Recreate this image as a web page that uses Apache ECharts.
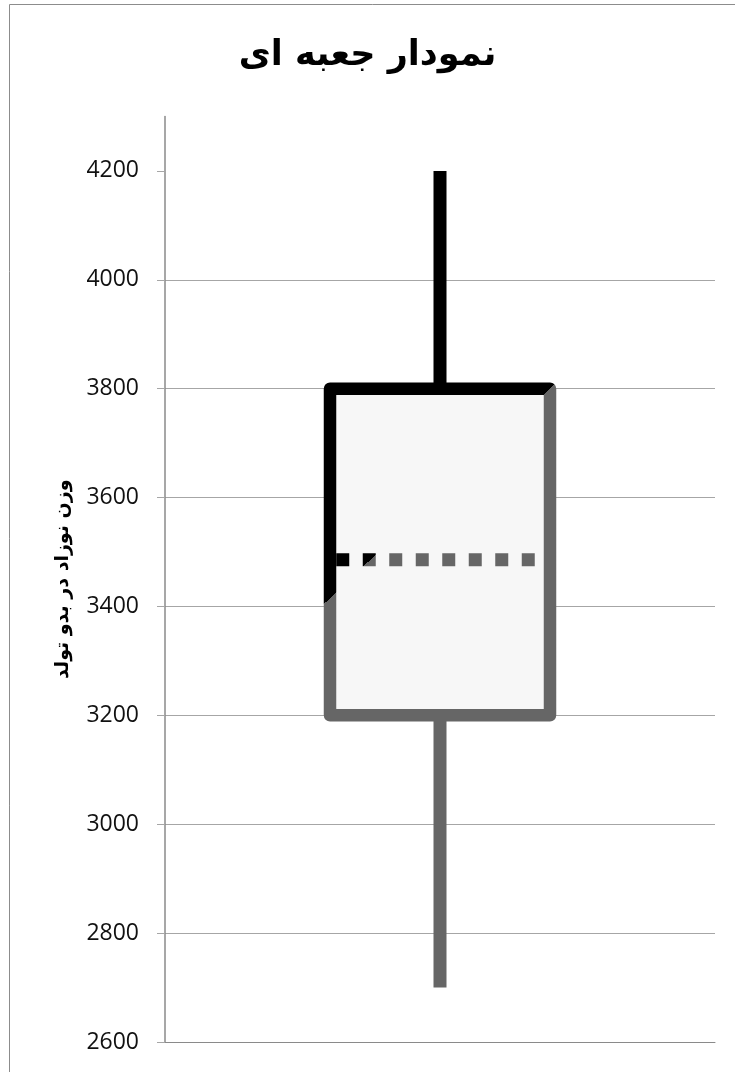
<!DOCTYPE html>
<html>
<head>
<meta charset="utf-8">
<script src="https://cdn.jsdelivr.net/npm/echarts@6/dist/echarts.min.js"></script>
<style>
html,body{margin:0;padding:0;background:#fff;}
#chart{width:735px;height:1072px;}
</style>
</head>
<body>
<div id="chart"></div>
<script>
// ---- data ----
const titleText = 'نمودار جعبه ای';
const yAxisTitle = 'وزن نوزاد در بدو تولد';
const categories = ['وزن'];
const minValues = [2700];
const q1Values = [3200];
const medianValues = [3486];
const q3Values = [3800];
const maxValues = [4200];
const yTicks = [2600, 2800, 3000, 3200, 3400, 3600, 3800, 4000, 4200];

const chart = echarts.init(document.getElementById('chart'));

const edgeColor = {
  type: 'linear', x: 0, y: 0, x2: 1000, y2: 1050, global: true,
  colorStops: [
    {offset: 0, color: '#000000'},
    {offset: 0.4557, color: '#000000'},
    {offset: 0.4557, color: '#666666'},
    {offset: 1, color: '#666666'}
  ]
};

const boxData = categories.map((c, i) => [i, minValues[i], q1Values[i], medianValues[i], q3Values[i], maxValues[i]]);

function renderBox(params, api) {
  const idx = api.value(0);
  const pMin = api.coord([idx, api.value(1)]);
  const pQ1 = api.coord([idx, api.value(2)]);
  const pMed = api.coord([idx, api.value(3)]);
  const pQ3 = api.coord([idx, api.value(4)]);
  const pMax = api.coord([idx, api.value(5)]);
  const bw = api.size([1, 0])[0] * 0.4;
  const cx = pMed[0];
  const lw = 12.5;
  return {
    type: 'group',
    children: [
      {type: 'line', shape: {x1: cx, y1: pMax[1], x2: cx, y2: pQ3[1]},
       style: {stroke: edgeColor, lineWidth: 13, lineCap: 'butt'}},
      {type: 'line', shape: {x1: cx, y1: pQ1[1], x2: cx, y2: pMin[1]},
       style: {stroke: edgeColor, lineWidth: 13, lineCap: 'butt'}},
      {type: 'rect', shape: {x: cx - bw / 2, y: pQ3[1], width: bw, height: pQ1[1] - pQ3[1]},
       style: {fill: '#f7f7f7', stroke: edgeColor, lineWidth: lw, lineJoin: 'round'}},
      {type: 'line', shape: {x1: cx - bw / 2 + lw / 2, y1: pMed[1], x2: cx + bw / 2 - lw / 2, y2: pMed[1]},
       style: {stroke: edgeColor, lineWidth: 13, lineCap: 'butt', lineDash: [13, 13.5]}}
    ]
  };
}

chart.setOption({
  animation: false,
  backgroundColor: '#ffffff',
  title: {
    text: titleText,
    left: 'center',
    top: 38,
    padding: [0, 0, 0, 18],
    textStyle: {fontFamily: 'DejaVu Sans', fontWeight: 'bold', fontSize: 35, color: '#000'}
  },
  graphic: [{
    type: 'rect', left: 7, top: 2, silent: true,
    shape: {x: 0, y: 0, width: 760, height: 1100},
    style: {fill: null, stroke: '#8c8c8c', lineWidth: 1}
  }],
  grid: {left: 165, right: 20, top: 116.5, bottom: 30, containLabel: false},
  xAxis: {
    type: 'category',
    data: categories,
    axisLine: {show: true, lineStyle: {color: '#8a8a8a', width: 1}},
    axisTick: {show: false},
    axisLabel: {show: false},
    splitLine: {show: false}
  },
  yAxis: {
    type: 'value',
    min: 2600,
    max: 4300,
    interval: 200,
    name: yAxisTitle,
    nameLocation: 'middle',
    nameRotate: 90,
    nameGap: 92,
    nameTextStyle: {fontFamily: 'DejaVu Sans', fontWeight: 'bold', fontSize: 19, color: '#000'},
    axisLine: {show: true, lineStyle: {color: '#8a8a8a', width: 1.5}},
    axisTick: {show: true, length: 8, customValues: yTicks, lineStyle: {color: '#a6a6a6'}},
    axisLabel: {
      showMaxLabel: false,
      margin: 26,
      fontFamily: 'Open Sans',
      fontSize: 23,
      color: '#111',
      formatter: v => String(v)
    },
    splitLine: {show: true, showMaxLine: false, lineStyle: {color: '#a6a6a6', width: 1}}
  },
  series: [{
    type: 'custom',
    renderItem: renderBox,
    encode: {x: 0, y: [1, 2, 3, 4, 5]},
    data: boxData,
    z: 10
  }]
});
</script>
</body>
</html>
